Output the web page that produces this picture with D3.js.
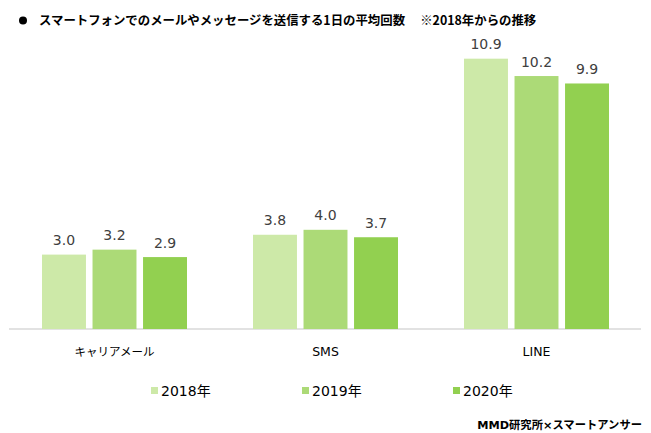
<!DOCTYPE html>
<html><head><meta charset="utf-8">
<script src="https://cdn.jsdelivr.net/npm/d3@7"></script>
<style>body{margin:0;background:#fff}svg{display:block}</style>
</head><body>
<script>
const categories = ["キャリアメール", "SMS", "LINE"];
const seriesNames = ["2018年", "2019年", "2020年"];
const v2018 = [3.0, 3.8, 10.9];
const v2019 = [3.2, 4.0, 10.2];
const v2020 = [2.9, 3.7, 9.9];
const seriesValues = [v2018, v2019, v2020];
const colors = ["#cde9a8", "#acda77", "#92d050"];

const W = 651, H = 433;
const svg = d3.select("body").append("svg").attr("width", W).attr("height", H);
const font = "'DejaVu Sans', 'Noto Sans CJK JP', sans-serif";

// title
svg.append("circle").attr("cx", 23).attr("cy", 20.5).attr("r", 4).attr("fill", "#000");
svg.append("text").attr("x", 39).attr("y", 25)
  .attr("font-family", "'Noto Sans CJK JP', sans-serif").attr("font-weight", "bold")
  .attr("font-size", 12.4).attr("fill", "#000")
  .text("スマートフォンでのメールやメッセージを送信する1日の平均回数　 ※2018年からの推移");

const x0 = d3.scaleBand().domain(categories).range([9, 642]).paddingInner(0).paddingOuter(0);
const x1 = d3.scaleBand().domain(seriesNames).range([33, 178]).paddingInner(0.13).paddingOuter(0);
const y = d3.scaleLinear().domain([0, 12]).range([329, 31.4]);

// axis line
svg.append("line").attr("x1", 9).attr("x2", 641).attr("y1", 329).attr("y2", 329)
  .attr("stroke", "#d9d9d9").attr("stroke-width", 1.3);

const g = svg.append("g");
seriesNames.forEach((s, si) => {
  categories.forEach((c, ci) => {
    const v = seriesValues[si][ci];
    const bx = x0(c) + x1(s);
    g.append("rect").attr("x", bx).attr("y", y(v)).attr("width", x1.bandwidth())
      .attr("height", y(0) - y(v)).attr("fill", colors[si]);
    g.append("text").attr("x", bx + x1.bandwidth() / 2).attr("y", y(v) - 9.5)
      .attr("text-anchor", "middle").attr("font-family", font).attr("font-size", 14)
      .attr("fill", "#404040").text(v.toFixed(1));
  });
});

// category labels
const xAxis = d3.axisBottom(x0).tickSize(0).tickPadding(0);
const ax = svg.append("g").attr("transform", "translate(0,329)").call(xAxis);
ax.select(".domain").remove();
ax.selectAll("text").attr("y", 27).attr("dy", 0)
  .attr("font-family", "'DejaVu Sans', 'Noto Sans CJK JP', sans-serif")
  .attr("font-weight", "normal")
  .attr("font-size", 12.5).attr("fill", "#000");
ax.selectAll("text").filter(d => d === "キャリアメール")
  .attr("font-family", "'Noto Sans CJK JP', sans-serif").attr("font-size", 11.5);

// legend
const legX = [151, 302, 453];
seriesNames.forEach((s, i) => {
  svg.append("rect").attr("x", legX[i]).attr("y", 387).attr("width", 7).attr("height", 7).attr("fill", colors[i]);
  svg.append("text").attr("x", legX[i] + 10).attr("y", 396)
    .attr("font-family", font).attr("font-size", 14).attr("fill", "#000").text(s);
});

// source
svg.append("text").attr("x", 642).attr("y", 429).attr("text-anchor", "end")
  .attr("font-family", "'DejaVu Sans', 'Noto Sans CJK JP', sans-serif").attr("font-weight", "bold")
  .attr("font-size", 11.3).attr("fill", "#000").text("MMD研究所×スマートアンサー");
</script>
</body></html>
